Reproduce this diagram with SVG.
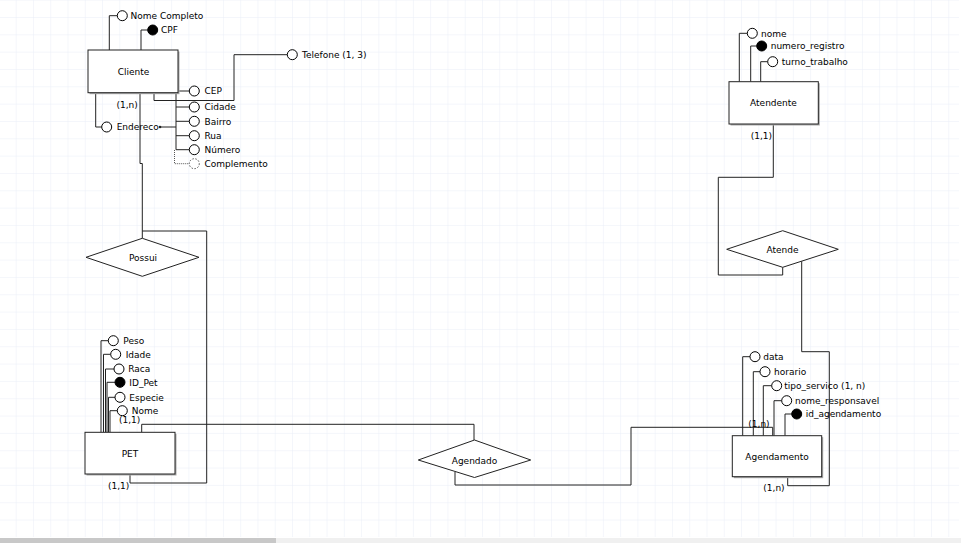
<svg xmlns="http://www.w3.org/2000/svg" width="961" height="543" viewBox="0 0 961 543">
<defs>
<pattern id="grid" x="15.7" y="17" width="17.27" height="17.33" patternUnits="userSpaceOnUse">
<path d="M0 0 H17.27 M0 0 V17.33" fill="none" stroke="#e9eef8" stroke-width="1"/>
</pattern>
<style>
.ln{fill:none;stroke:#222;stroke-width:1}
.dot{fill:none;stroke:#555;stroke-width:1;stroke-dasharray:1 1}
.ent{fill:#fff;stroke:#222;stroke-width:1}
.sh{fill:#aaa;stroke:none}
.rel{fill:#fff;stroke:#222;stroke-width:1}
.att{fill:#fff;stroke:#000;stroke-width:1}
.key{fill:#000;stroke:#000;stroke-width:1}
.opt{fill:#fff;stroke:#555;stroke-width:1;stroke-dasharray:1.5 1.5}
text{font-family:"DejaVu Sans","Liberation Sans",sans-serif;font-size:9px;fill:#000}
.c{text-anchor:middle}
</style>
</defs>
<rect x="0" y="0" width="961" height="543" fill="#fff"/>
<rect x="0" y="0" width="959" height="537" fill="url(#grid)"/>
<rect x="0" y="538" width="961" height="5" fill="#f0f0f0"/>
<rect x="0" y="538" width="276" height="5" fill="#c8c8c8"/>

<g id="connectors">
<!-- Cliente attributes -->
<polyline class="ln" points="117.3,15.7 109.3,15.7 109.3,50"/>
<polyline class="ln" points="147.7,30 141,30 141,50"/>
<polyline class="ln" points="178,91 189.3,91"/>
<polyline class="ln" points="176,93 176,149.7"/>
<polyline class="ln" points="176,107 189.3,107"/>
<polyline class="ln" points="176,121.3 189.3,121.3"/>
<polyline class="ln" points="176,135.7 189.3,135.7"/>
<polyline class="ln" points="176,149.7 189.3,149.7"/>
<polyline class="dot" points="174.5,150 174.5,163.7 189.3,163.7"/>
<polyline class="ln" points="95.7,93 95.7,127 101.7,127"/>
<polyline class="ln" points="160,127 176,127"/>
<polyline class="ln" points="154,93 154,100.5 234,100.5 234,54.7 287.3,54.7"/>
<!-- Cliente - Possui - PET -->
<polyline class="ln" points="140,93 140,163.5 142.3,163.5 142.3,238.3"/>
<polyline class="ln" points="142.3,231 206.7,231 206.7,483 130,483 130,474"/>
<!-- PET attributes -->
<polyline class="ln" points="108.3,340.7 101,340.7 101,432.3"/>
<polyline class="ln" points="110.7,354.3 103.5,354.3 103.5,432.3"/>
<polyline class="ln" points="114,369 105.5,369 105.5,432.3"/>
<polyline class="ln" points="115,382.3 107,382.3 107,432.3"/>
<polyline class="ln" points="115,397.3 108.5,397.3 108.5,432.3"/>
<polyline class="ln" points="117.3,410.7 110,410.7 110,432.3"/>
<!-- PET - Agendado - Agendamento -->
<polyline class="ln" points="141.7,432.3 141.7,424.3 474,424.3 474,440"/>
<polyline class="ln" points="455,472 455,485 631,485 631,427.3 772.7,427.3 772.7,435.7"/>
<!-- Agendamento attributes -->
<polyline class="ln" points="750,356.7 742.7,356.7 742.7,435.7"/>
<polyline class="ln" points="760,371.7 753.3,371.7 753.3,435.7"/>
<polyline class="ln" points="771.7,385.7 763.3,385.7 763.3,435.7"/>
<polyline class="ln" points="781.7,400.7 774,400.7 774,435.7"/>
<polyline class="ln" points="791.7,414 785,414 785,435.7"/>
<!-- Agendamento - Atende - Atendente -->
<polyline class="ln" points="787.7,476.7 787.7,485.7 829.3,485.7 829.3,351.7 801.7,351.7 801.7,261.2"/>
<polyline class="ln" points="782.7,267.3 782.7,275 718.3,275 718.3,177.3 773.3,177.3 773.3,124"/>
<!-- Atendente attributes -->
<polyline class="ln" points="747.3,33.3 739.3,33.3 739.3,81.7"/>
<polyline class="ln" points="756.7,46 750.7,46 750.7,81.7"/>
<polyline class="ln" points="767.7,61.7 760.7,61.7 760.7,81.7"/>
<circle cx="160" cy="127" r="1.3" fill="#222"/>
<!-- cardinalities -->
<text x="116.5" y="108">(1,n)</text>
<text x="119" y="423">(1,1)</text>
<text x="108" y="489">(1,1)</text>
<text x="748.3" y="427">(1,n)</text>
<text x="763.3" y="491">(1,n)</text>
<text x="750.7" y="139">(1,1)</text>
</g>

<g id="cliente">
<rect class="sh" x="89.5" y="51.5" width="90" height="42.7"/>
<rect class="ent" x="88" y="50" width="90" height="42.7"/>
<text class="c" x="133.5" y="75">Cliente</text>
</g>
<g id="atendente">
<rect class="sh" x="730.5" y="83.2" width="89.3" height="42.3"/>
<rect class="ent" x="729" y="81.7" width="89.3" height="42.3"/>
<text class="c" x="773.5" y="106">Atendente</text>
</g>
<g id="pet">
<rect class="sh" x="86.5" y="433.8" width="90" height="41.7"/>
<rect class="ent" x="85" y="432.3" width="90" height="41.7"/>
<text class="c" x="130" y="456.5">PET</text>
</g>
<g id="agendamento">
<rect class="sh" x="733.8" y="437.2" width="89.4" height="41"/>
<rect class="ent" x="732.3" y="435.7" width="89.4" height="41"/>
<text class="c" x="777" y="460">Agendamento</text>
</g>

<g id="possui">
<polygon class="rel" points="142.3,238.3 199,257.3 142.3,276.3 86,257.3"/>
<text class="c" x="143" y="261">Possui</text>
</g>
<g id="agendado">
<polygon class="rel" points="474.5,440 530.7,460 474.5,477.5 418.3,460"/>
<text class="c" x="474.5" y="463.5">Agendado</text>
</g>
<g id="atende">
<polygon class="rel" points="782.7,230.7 838.3,249.3 782.7,267.3 726.7,249.3"/>
<text class="c" x="782.5" y="252.5">Atende</text>
</g>

<g id="attr-nome-completo"><circle class="att" cx="122.3" cy="15.7" r="5"/><text x="130.5" y="19">Nome Completo</text></g>
<g id="attr-cpf"><circle class="key" cx="152.7" cy="30" r="5"/><text x="161" y="33.3">CPF</text></g>
<g id="attr-cep"><circle class="att" cx="194.3" cy="91" r="5"/><text x="204.5" y="94.3">CEP</text></g>
<g id="attr-cidade"><circle class="att" cx="194.3" cy="107" r="5"/><text x="204.5" y="110.3">Cidade</text></g>
<g id="attr-bairro"><circle class="att" cx="194.3" cy="121.3" r="5"/><text x="204.5" y="124.6">Bairro</text></g>
<g id="attr-rua"><circle class="att" cx="194.3" cy="135.7" r="5"/><text x="204.5" y="139">Rua</text></g>
<g id="attr-numero"><circle class="att" cx="194.3" cy="149.7" r="5"/><text x="204.5" y="153">Número</text></g>
<g id="attr-complemento"><circle class="opt" cx="194.3" cy="163.7" r="5"/><text x="204.5" y="167">Complemento</text></g>
<g id="attr-endereco"><circle class="att" cx="106.7" cy="127" r="5"/><text x="116.7" y="130.3">Endereco</text></g>
<g id="attr-telefone"><circle class="att" cx="292.3" cy="54.7" r="5"/><text x="302" y="58">Telefone (1, 3)</text></g>

<g id="attr-nome-atendente"><circle class="att" cx="752.3" cy="33.3" r="5"/><text x="761" y="36.6">nome</text></g>
<g id="attr-numero-registro"><circle class="key" cx="761.7" cy="46" r="5"/><text x="770.7" y="49.3">numero_registro</text></g>
<g id="attr-turno-trabalho"><circle class="att" cx="772.7" cy="61.7" r="5"/><text x="781.7" y="65">turno_trabalho</text></g>

<g id="attr-peso"><circle class="att" cx="113.3" cy="340.7" r="5"/><text x="123.3" y="344">Peso</text></g>
<g id="attr-idade"><circle class="att" cx="115.7" cy="354.3" r="5"/><text x="125.7" y="357.6">Idade</text></g>
<g id="attr-raca"><circle class="att" cx="119" cy="369" r="5"/><text x="128.3" y="372.3">Raca</text></g>
<g id="attr-id-pet"><circle class="key" cx="120" cy="382.3" r="5"/><text x="129.3" y="385.6">ID_Pet</text></g>
<g id="attr-especie"><circle class="att" cx="120" cy="397.3" r="5"/><text x="129.3" y="400.6">Especie</text></g>
<g id="attr-nome-pet"><circle class="att" cx="122.3" cy="410.7" r="5"/><text x="131.7" y="414">Nome</text></g>

<g id="attr-data"><circle class="att" cx="755" cy="356.7" r="5"/><text x="763.3" y="360">data</text></g>
<g id="attr-horario"><circle class="att" cx="765" cy="371.7" r="5"/><text x="774" y="375">horario</text></g>
<g id="attr-tipo-servico"><circle class="att" cx="776.7" cy="385.7" r="5"/><text x="784.3" y="389">tipo_servico (1, n)</text></g>
<g id="attr-nome-responsavel"><circle class="att" cx="786.7" cy="400.7" r="5"/><text x="795" y="404">nome_responsavel</text></g>
<g id="attr-id-agendamento"><circle class="key" cx="796.7" cy="414" r="5"/><text x="805.7" y="417.3">id_agendamento</text></g>
</svg>
